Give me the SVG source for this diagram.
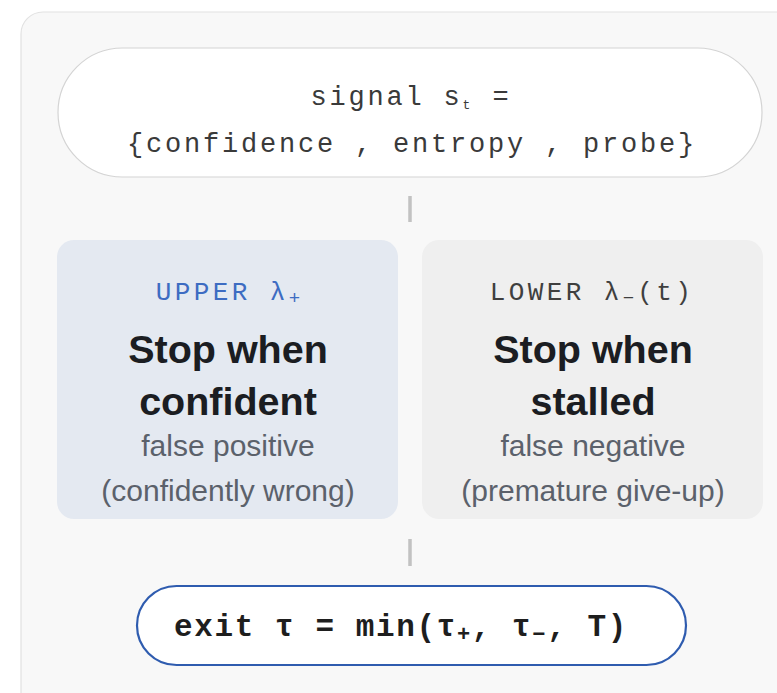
<svg xmlns="http://www.w3.org/2000/svg" width="777" height="693" viewBox="0 0 777 693">
  <style>
    .mono { font-family: "Liberation Mono", "DejaVu Sans Mono", monospace; }
    .sans { font-family: "Liberation Sans", Arial, sans-serif; }
    .signal { font-size: 27px; letter-spacing: 2.8px; fill: #3a3a3a; }
    .tag { font-size: 26px; letter-spacing: 3.4px; }
    .title { font-size: 39.5px; font-weight: bold; fill: #1b1d22; }
    .note { font-size: 30px; fill: #5b616b; }
    .exit { font-size: 31px; font-weight: bold; letter-spacing: 1.6px; fill: #1e1e1e; }
    .link { stroke: #c2c2c2; stroke-width: 3.5; }
  </style>

  <!-- background panel -->
  <rect x="21" y="12" width="778" height="720" rx="22" fill="#f8f8f8" stroke="#e2e2e2" stroke-width="1.2"/>

  <!-- signal input -->
  <g id="signal">
    <rect x="58" y="48" width="704" height="129" rx="64.5" fill="#ffffff" stroke="#d4d4d4" stroke-width="1.2"/>
    <text class="mono signal" x="411" y="105" text-anchor="middle">signal s<tspan font-size="13" dy="4" letter-spacing="3">t</tspan><tspan dy="-4"> =</tspan></text>
    <text class="mono signal" x="412" y="152" text-anchor="middle">{confidence , entropy , probe}</text>
  </g>

  <!-- connectors -->
  <g id="connectors">
    <line class="link" x1="410" y1="196" x2="410" y2="222"/>
    <line class="link" x1="410" y1="539" x2="410" y2="566"/>
  </g>

  <!-- upper threshold -->
  <g id="upper">
    <rect x="57" y="240" width="341" height="279" rx="17" fill="#e4e9f1"/>
    <text class="mono tag" x="228" y="300" text-anchor="middle" fill="#3d6cc2">UPPER λ<tspan font-size="19" dy="4" letter-spacing="0">+</tspan></text>
    <text class="sans title" x="228" y="363" text-anchor="middle">Stop when</text>
    <text class="sans title" x="228" y="415" text-anchor="middle">confident</text>
    <text class="sans note" x="228" y="456" text-anchor="middle">false positive</text>
    <text class="sans note" x="228" y="501" text-anchor="middle">(confidently wrong)</text>
  </g>

  <!-- lower threshold -->
  <g id="lower">
    <rect x="422" y="240" width="341" height="279" rx="17" fill="#efefef"/>
    <text class="mono tag" x="592" y="300" text-anchor="middle" fill="#3f3f3f">LOWER λ<tspan font-size="19" dy="4" letter-spacing="3">−</tspan><tspan dy="-4">(t)</tspan></text>
    <text class="sans title" x="593" y="363" text-anchor="middle">Stop when</text>
    <text class="sans title" x="593" y="415" text-anchor="middle">stalled</text>
    <text class="sans note" x="593" y="456" text-anchor="middle">false negative</text>
    <text class="sans note" x="593" y="501" text-anchor="middle">(premature give-up)</text>
  </g>

  <!-- exit rule -->
  <g id="exit">
    <rect x="137" y="586" width="549" height="79" rx="39.5" fill="#ffffff" stroke="#2f5caf" stroke-width="2.2"/>
    <text class="mono exit" x="401" y="636" text-anchor="middle">exit τ = min(τ<tspan font-size="22" dy="5">+</tspan><tspan dy="-5">, τ</tspan><tspan font-size="22" dy="5">−</tspan><tspan dy="-5">, T)</tspan></text>
  </g>
</svg>
